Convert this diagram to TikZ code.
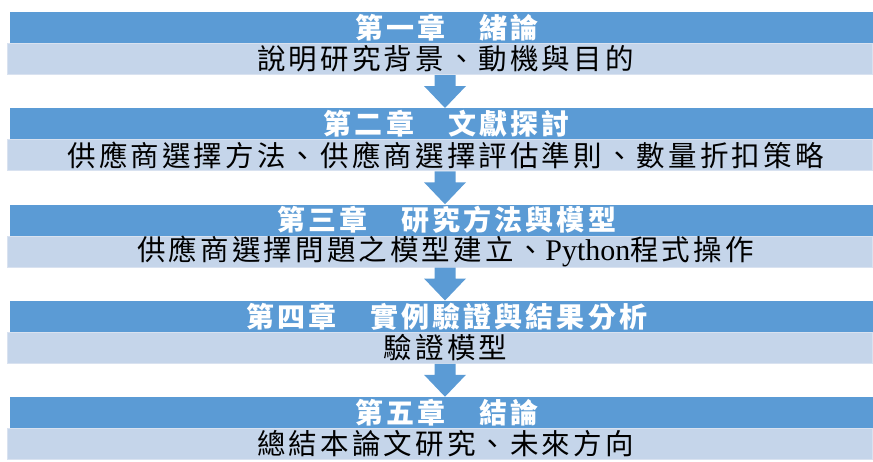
\documentclass[tikz,border=0pt]{standalone}
\usepackage{fontspec}
\setmainfont{Liberation Serif}
\newfontfamily\cjk[LetterSpace=11]{Noto Sans CJK TC}
\usetikzlibrary{calc}
\definecolor{hdrblue}{HTML}{5B9BD5}
\definecolor{lightbar}{HTML}{C5D5EA}
\definecolor{lightedge}{HTML}{D9E2F0}
\newcommand\chapterarrow[2]{%
  \fill[arr] ([xshift=-5.5pt]#1.south) -- ++(0,11) -- ++(-10.5,0) -- ++(21,22)
    -- ++(21,-22) -- ++(-10.5,0) -- ++(0,-11) -- cycle;}
\begin{document}
\begin{tikzpicture}[x=1pt,y=-1pt,
  hdr/.style={fill=hdrblue, minimum width=863pt, minimum height=31pt, inner sep=0pt,
    text=white, anchor=north west,
    font=\cjk\fontsize{28}{30}\selectfont\bfseries,
    execute at begin node={\hspace*{10pt}}},
  sub/.style={fill=lightbar, draw=lightedge, line width=1pt, minimum width=865pt,
    minimum height=31pt, inner sep=0pt, text=black, anchor=north west,
    font=\cjk\fontsize{28.5}{30}\selectfont,
    execute at begin node={\hspace*{11pt}}},
  arr/.style={fill=hdrblue}]
\path[use as bounding box] (0,0) rectangle (873,461);
% block 1
\node[hdr] (h1) at (10,12) {第一章　緒論};
\node[sub] (s1) at (7,43) {說明研究背景、動機與目的};
% block 2
\node[hdr] (h2) at (10,108.25) {第二章　文獻探討};
\node[sub] (s2) at (7,139.25) {供應商選擇方法、供應商選擇評估準則、數量折扣策略};
% block 3
\node[hdr] (h3) at (10,204.5) {第三章　研究方法與模型};
\node[sub] (s3) at (7,235.5) {供應商選擇問題之模型建立、{\rmfamily\fontsize{30}{32}\selectfont Python}程式操作};
% block 4
\node[hdr] (h4) at (10,300.75) {第四章　實例驗證與結果分析};
\node[sub] (s4) at (7,331.75) {驗證模型};
% block 5
\node[hdr] (h5) at (10,397) {第五章　結論};
\node[sub] (s5) at (7,428) {總結本論文研究、未來方向};
% arrows
\chapterarrow{s1}{h2}
\chapterarrow{s2}{h3}
\chapterarrow{s3}{h4}
\chapterarrow{s4}{h5}
\end{tikzpicture}
\end{document}
